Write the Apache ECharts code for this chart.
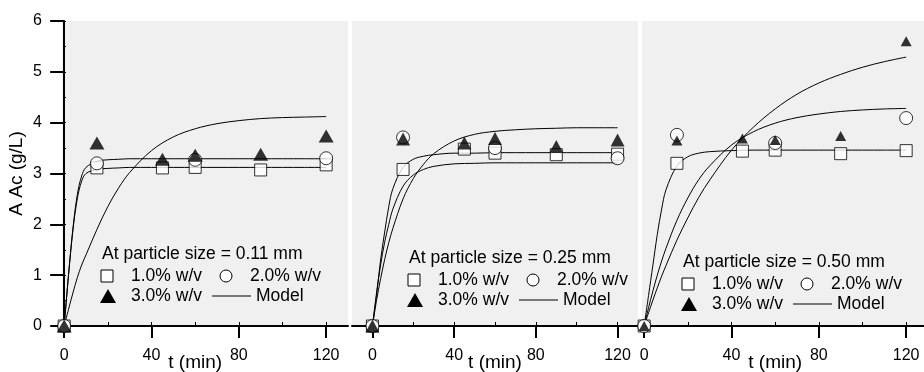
<!DOCTYPE html>
<html>
<head>
<meta charset="utf-8">
<script src="https://cdn.jsdelivr.net/npm/echarts@6/dist/echarts.min.js"></script>
<style>
  html, body { margin: 0; background: #fff; }
  #chart { width: 924px; height: 372px; }
</style>
</head>
<body>
<div id="chart"></div>
<script>
// sampling times of the measured points (min)
const times = [0, 15, 45, 60, 90, 120];
const tModel = [0, 2, 4, 6, 8, 10, 15, 20, 25, 30, 40, 50, 60, 70, 80, 90, 100, 110, 120];

const particleSizes = ['0.11', '0.25', '0.50'];
const loadNames = ['1.0% w/v', '2.0% w/v', '3.0% w/v'];

// 0.11 mm
const sq011 = [0, 3.11, 3.11, 3.12, 3.07, 3.17];
const ci011 = [0, 3.2, null, 3.27, null, 3.3];
const tr011 = [0, 3.6, 3.28, 3.36, 3.38, 3.74];
const m011a = [0, 1.0, 1.88, 2.5, 2.85, 3.0, 3.08, 3.1, 3.11, 3.12, 3.12, 3.12, 3.12, 3.12, 3.12, 3.12, 3.12, 3.12, 3.12];
const m011b = [0, 1.02, 1.92, 2.58, 2.95, 3.12, 3.24, 3.27, 3.28, 3.29, 3.29, 3.29, 3.29, 3.29, 3.29, 3.29, 3.29, 3.29, 3.29];
const m011c = [0, 0.33, 0.65, 0.95, 1.2, 1.4, 1.9, 2.35, 2.72, 3.02, 3.45, 3.72, 3.88, 3.98, 4.04, 4.08, 4.1, 4.11, 4.12];

// 0.25 mm
const sq025 = [0, 3.08, 3.48, 3.4, 3.37, 3.38];
const ci025 = [0, 3.71, null, 3.5, null, 3.3];
const tr025 = [0, 3.68, 3.6, 3.69, 3.53, 3.66];
const m025a = [0, 0.6, 1.3, 1.85, 2.35, 2.7, 3.12, 3.28, 3.34, 3.37, 3.4, 3.4, 3.41, 3.41, 3.41, 3.41, 3.41, 3.41, 3.41];
const m025b = [0, 0.65, 1.2, 1.65, 2.0, 2.3, 2.75, 2.97, 3.08, 3.14, 3.19, 3.2, 3.21, 3.21, 3.21, 3.21, 3.21, 3.21, 3.21];
const m025c = [0, 0.5, 0.93, 1.31, 1.64, 1.92, 2.5, 2.9, 3.18, 3.39, 3.64, 3.77, 3.83, 3.86, 3.88, 3.89, 3.9, 3.9, 3.9];

// 0.50 mm
const sq050 = [0, 3.2, 3.44, 3.46, 3.39, 3.45];
const ci050 = [0, 3.76, null, 3.6, null, 4.09];
const tr050 = [0, 3.65, 3.69, 3.66, 3.74, 5.6];
const m050a = [0, 0.6, 1.2, 1.8, 2.3, 2.68, 3.15, 3.33, 3.4, 3.43, 3.45, 3.46, 3.46, 3.46, 3.46, 3.46, 3.46, 3.46, 3.46];
const m050b = [0, 0.36, 0.69, 1.0, 1.28, 1.53, 2.08, 2.52, 2.88, 3.15, 3.56, 3.82, 3.99, 4.1, 4.17, 4.22, 4.25, 4.27, 4.28];
const m050c = [0, 0.26, 0.51, 0.75, 0.98, 1.19, 1.69, 2.13, 2.53, 2.87, 3.46, 3.91, 4.27, 4.56, 4.78, 4.95, 5.09, 5.2, 5.29];

const measured = [[sq011, ci011, tr011], [sq025, ci025, tr025], [sq050, ci050, tr050]];
const models = [[m011a, m011b, m011c], [m025a, m025b, m025c], [m050a, m050b, m050c]];

// layout of the three panels
const gridLeft = [62, 352, 642];
const gridWidth = 286;
const gridTop = 21, gridHeight = 305;
const xMins = [-1, -10, -1];
const xMax = 130;
const triSizes = [[15, 13], [14, 13], [11, 10]];
const legendPos = [[102, 254], [409, 258], [683, 262]];

const FONT = '"Liberation Sans", Arial, sans-serif';
const chart = echarts.init(document.getElementById('chart'));

const pairs = (xs, ys) => xs.map((x, i) => [x, ys[i]]).filter(p => p[1] != null);

const grid = [], xAxis = [], yAxis = [], series = [], graphic = [];
const plain = { containLabel: false, outerBoundsMode: 'none' };

// data panels: grey area, axis line, series
particleSizes.forEach((ps, i) => {
  grid.push({ left: gridLeft[i], top: gridTop, width: gridWidth, height: gridHeight, show: true,
    backgroundColor: '#f0f0f0', borderWidth: 0, ...plain });

  xAxis.push({
    type: 'value', gridIndex: i, min: xMins[i], max: xMax,
    axisLine: { lineStyle: { color: '#000', width: 2 } },
    axisTick: { show: false }, axisLabel: { show: false }, splitLine: { show: false }
  });

  yAxis.push({
    type: 'value', gridIndex: i, min: 0, max: 6, interval: 1, show: i === 0,
    name: 'A Ac (g/L)', nameLocation: 'middle', nameGap: 36, nameMoveOverlap: false,
    nameTextStyle: { fontFamily: FONT, fontSize: 19, color: '#000' },
    axisLine: { show: true, lineStyle: { color: '#000', width: 2 } },
    axisTick: { show: true, length: 14, lineStyle: { width: 2, color: '#000' } },
    axisLabel: { margin: 20, fontFamily: FONT, fontSize: 16, color: '#000' },
    splitLine: { show: false }
  });

  models[i].forEach(m => {
    series.push({
      type: 'line', name: 'Model', xAxisIndex: i, yAxisIndex: i,
      data: pairs(tModel, m), smooth: 0.35, showSymbol: false, symbol: 'none',
      lineStyle: { color: '#000', width: 1 }, z: 2, silent: true
    });
  });

  const [sq, ci, tr] = measured[i];
  series.push({
    type: 'scatter', name: loadNames[0], xAxisIndex: i, yAxisIndex: i, data: pairs(times, sq),
    symbol: 'rect', symbolSize: 12, clip: false, z: 3,
    itemStyle: { color: '#fff', borderColor: '#000', borderWidth: 1 }
  });
  series.push({
    type: 'scatter', name: loadNames[1], xAxisIndex: i, yAxisIndex: i, data: pairs(times, ci),
    symbol: 'circle', symbolSize: 13, clip: false, z: 4,
    itemStyle: { color: '#fff', borderColor: '#000', borderWidth: 1 }
  });
  series.push({
    type: 'scatter', name: loadNames[2], xAxisIndex: i, yAxisIndex: i, data: pairs(times, tr),
    symbol: 'triangle', symbolSize: triSizes[i], clip: false, z: 5,
    itemStyle: { color: '#000' }
  });

  // in-panel legend
  const [lx, ly] = legendPos[i];
  const font = '17.5px ' + FONT;
  const txt = (dx, dy, s) => ({ type: 'text', x: lx + dx, y: ly + dy, z: 10,
    style: { text: s, font: font, fill: '#000', verticalAlign: 'middle' } });
  graphic.push(
    txt(0, 0, 'At particle size = ' + ps + ' mm'),
    { type: 'rect', z: 10, shape: { x: lx - 1, y: ly + 16, width: 12, height: 12 },
      style: { fill: '#fff', stroke: '#000', lineWidth: 1 } },
    txt(29, 22, loadNames[0]),
    { type: 'circle', z: 10, shape: { cx: lx + 124, cy: ly + 22, r: 6 },
      style: { fill: '#fff', stroke: '#000', lineWidth: 1 } },
    txt(148, 22, loadNames[1]),
    { type: 'polygon', z: 10, shape: { points: [[lx - 2, ly + 49], [lx + 14, ly + 49], [lx + 6, ly + 35]] },
      style: { fill: '#000' } },
    txt(29, 42, loadNames[2]),
    { type: 'line', z: 10, shape: { x1: lx + 110, y1: ly + 42, x2: lx + 149, y2: ly + 42 },
      style: { stroke: '#000', lineWidth: 1 } },
    txt(154, 42, 'Model')
  );
});

// helper: a thin strip grid whose split lines act as tick marks
function tickStrip(box, dim, interval, width, max) {
  const gi = grid.length;
  grid.push({ ...box, show: false, ...plain });
  const hidden = { axisLine: { show: false }, axisTick: { show: false }, axisLabel: { show: false } };
  const ticked = { ...hidden, type: 'value', gridIndex: gi, min: 0, max: max, interval: interval,
    splitLine: { show: true, showMinLine: true, showMaxLine: true, lineStyle: { color: '#000', width: width } } };
  const other = { ...hidden, type: 'value', gridIndex: gi, min: 0, max: 1, splitLine: { show: false } };
  if (dim === 'x') { xAxis.push(ticked); yAxis.push(other); }
  else { yAxis.push(ticked); xAxis.push(other); }
}

// tick labels, axis names and tick marks spanning 0..120 min of each panel
particleSizes.forEach((ps, i) => {
  const unit = gridWidth / (xMax - xMins[i]);
  const left = gridLeft[i] - xMins[i] * unit, width = 120 * unit;
  const gi = grid.length;
  grid.push({ left, top: gridTop, width, height: gridHeight, show: false, ...plain });
  yAxis.push({ type: 'value', gridIndex: gi, min: 0, max: 6, show: false });
  xAxis.push({
    type: 'value', gridIndex: gi, min: 0, max: 120, interval: 40,
    name: 't (min)', nameLocation: 'middle', nameGap: 27, nameMoveOverlap: false,
    nameTextStyle: { fontFamily: FONT, fontSize: 19, color: '#000' },
    axisLine: { show: false, onZero: false },
    axisTick: { show: false },
    axisLabel: { margin: 22, fontFamily: FONT, fontSize: 16, color: '#000' },
    splitLine: { show: false }
  });
  tickStrip({ left, width, top: gridTop + gridHeight + 1, height: 11 }, 'x', 40, 2, 120);   // major, outward
  tickStrip({ left, width, top: gridTop + gridHeight - 4, height: 3 }, 'x', 20, 1, 120);    // minor, inward
});
tickStrip({ left: gridLeft[0] + 1, width: 3, top: gridTop, height: gridHeight }, 'y', 0.5, 1, 6); // y minor, inward

chart.setOption({
  animation: false,
  backgroundColor: '#fff',
  grid, xAxis, yAxis, series, graphic
});
</script>
</body>
</html>
